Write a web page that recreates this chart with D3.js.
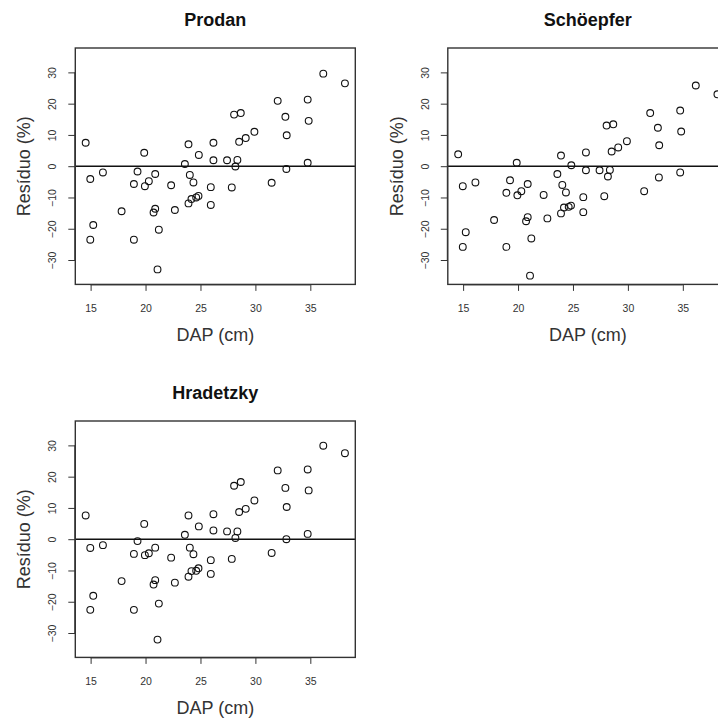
<!DOCTYPE html>
<html>
<head>
<meta charset="utf-8">
<script src="https://cdn.jsdelivr.net/npm/d3@7"></script>
<style>
  html, body { margin: 0; padding: 0; background: #fff; overflow: hidden; }
  svg { display: block; }
  text { font-family: "Liberation Sans", Arial, Helvetica, sans-serif; }
</style>
</head>
<body>
<div id="chart"></div>
<script>
// ---- data ----
const panelTitles = ["Prodan", "Schöepfer", "Hradetzky"];
const dap = [14.55, 14.97, 14.97, 15.24, 16.12, 17.82, 18.94, 18.94, 19.27, 19.88,
  19.94, 20.30, 20.88, 20.88, 20.73, 21.21, 21.09, 22.33, 22.67, 23.58,
  23.91, 24.03, 23.91, 24.36, 24.18, 24.61, 24.82, 24.85, 25.94, 25.94,
  26.18, 26.18, 27.42, 27.85, 28.06, 28.67, 28.18, 28.36, 28.52, 29.12,
  29.91, 31.48, 32.03, 32.73, 32.85, 32.82, 34.76, 34.85, 34.76, 36.18, 38.15];
const prodan = [7.5, -4.1, -23.5, -18.8, -2.0, -14.4, -5.7, -23.5, -1.7, 4.3,
  -6.4, -4.8, -2.5, -13.6, -14.8, -20.3, -33.0, -6.1, -14.0, 0.7,
  7.0, -2.8, -11.9, -5.2, -10.5, -10.0, -9.5, 3.6, -6.7, -12.4,
  7.5, 1.9, 1.9, -6.8, 16.5, 17.0, -0.1, 2.0, 7.8, 9.0,
  11.0, -5.3, 20.9, 15.8, 9.9, -0.9, 21.3, 14.5, 1.1, 29.6, 26.5];
const schoepfer = [3.8, -6.4, -25.8, -21.1, -5.2, -17.2, -8.5, -25.8, -4.5, 1.1,
  -9.3, -8.0, -5.7, -16.3, -17.6, -23.1, -35.0, -9.2, -16.7, -2.5,
  3.4, -6.0, -15.1, -8.4, -13.2, -13.0, -12.6, 0.3, -9.9, -14.7,
  4.4, -1.3, -1.3, -9.6, 13.0, 13.4, -3.3, -1.2, 4.7, 6.0,
  8.0, -8.0, 17.0, 12.3, 6.7, -3.6, 17.8, 11.1, -2.0, 25.8, 23.0];
const hradetzky = [7.6, -2.8, -22.6, -18.1, -1.9, -13.4, -4.7, -22.6, -0.6, 4.9,
  -5.1, -4.5, -2.7, -13.1, -14.5, -20.6, -32.1, -5.9, -13.9, 1.4,
  7.6, -2.7, -12.0, -4.8, -10.2, -10.1, -9.3, 4.1, -6.7, -11.1,
  8.0, 2.8, 2.5, -6.3, 17.1, 18.3, 0.4, 2.5, 8.7, 9.7,
  12.4, -4.4, 22.0, 16.4, 10.3, 0.0, 22.3, 15.6, 1.7, 29.9, 27.5];
const xTicks = [15, 20, 25, 30, 35];
const yTicks = [-30, -20, -10, 0, 10, 20, 30];
const yLimits = [-35, 35];
const xLabel = "DAP (cm)";
const yLabel = "Resíduo (%)";

// ---- layout ----
const W = 718, H = 720;
const boxW = 280, boxH = 236.4;
const cellW = 372.5, cellH = 373;
const left0 = 75.3, top0 = 48;

const svg = d3.select("#chart").append("svg")
  .attr("width", W).attr("height", H);

// R-style 4% axis extension
function rExtend(lo, hi) { const d = (hi - lo) * 0.04; return [lo - d, hi + d]; }
const xDom = rExtend(d3.min(dap), d3.max(dap));
const yDom = rExtend(yLimits[0], yLimits[1]);

const series = [prodan, schoepfer, hradetzky];

series.forEach((vals, i) => {
  const col = i % 2, row = Math.floor(i / 2);
  const ox = left0 + col * cellW, oy = top0 + row * cellH;
  const g = svg.append("g").attr("transform", `translate(${ox},${oy})`);
  const x = d3.scaleLinear().domain(xDom).range([0, boxW]);
  const y = d3.scaleLinear().domain(yDom).range([boxH, 0]);

  // title
  g.append("text").attr("x", boxW / 2).attr("y", -22)
    .attr("text-anchor", "middle").attr("font-size", 18).attr("font-weight", "bold")
    .attr("fill", "#111").text(panelTitles[i]);

  // x axis
  const xa = g.append("g").attr("transform", `translate(0,${boxH})`)
    .call(d3.axisBottom(x).tickValues(xTicks).tickSize(6.5).tickPadding(14).tickFormat(d3.format("d")));
  xa.select(".domain").attr("d", `M${x(xTicks[0])},0.5H${x(xTicks[xTicks.length-1])}`)
    .attr("stroke", "#333");
  xa.selectAll(".tick line").attr("stroke", "#333");
  xa.selectAll(".tick text").attr("font-size", 10.5).attr("fill", "#333")
    .attr("font-family", "'Liberation Sans', Arial, sans-serif");

  // y axis
  const ya = g.append("g")
    .call(d3.axisLeft(y).tickValues(yTicks).tickSize(7).tickPadding(12).tickFormat(d3.format("d")));
  ya.select(".domain").attr("d", `M-0.5,${y(yTicks[0])}V${y(yTicks[yTicks.length-1])}`)
    .attr("stroke", "#333");
  ya.selectAll(".tick line").attr("stroke", "#333");
  ya.selectAll(".tick text").attr("font-size", 10.5).attr("fill", "#333")
    .attr("font-family", "'Liberation Sans', Arial, sans-serif")
    .attr("text-anchor", "middle").attr("dy", null)
    .attr("transform", function() {
      const t = d3.select(this.parentNode).attr("transform");
      return "translate(-19,0) rotate(-90)";
    })
    .attr("x", 0).attr("y", 0);

  // axis labels
  g.append("text").attr("x", boxW / 2).attr("y", boxH + 57)
    .attr("text-anchor", "middle").attr("font-size", 18).attr("fill", "#333").text(xLabel);
  g.append("text").attr("transform", `translate(${-45},${boxH / 2}) rotate(-90)`)
    .attr("text-anchor", "middle").attr("font-size", 18).attr("fill", "#333").text(yLabel);

  // clip + zero line
  const cid = "clip" + i;
  g.append("clipPath").attr("id", cid).append("rect")
    .attr("x", 0).attr("y", 0).attr("width", boxW).attr("height", boxH);
  g.append("line").attr("x1", 0).attr("x2", boxW)
    .attr("y1", y(0)).attr("y2", y(0))
    .attr("stroke", "#111").attr("stroke-width", 1.4);

  // points
  g.append("g").selectAll("circle").data(vals.map((v, j) => [dap[j], v]))
    .join("circle")
    .attr("cx", d => x(d[0])).attr("cy", d => y(d[1])).attr("r", 3.4)
    .attr("fill", "none").attr("stroke", "#111").attr("stroke-width", 1.1);

  // box
  g.append("rect").attr("x", 0).attr("y", 0).attr("width", boxW).attr("height", boxH)
    .attr("fill", "none").attr("stroke", "#333").attr("stroke-width", 1.4);
});
</script>
</body>
</html>
